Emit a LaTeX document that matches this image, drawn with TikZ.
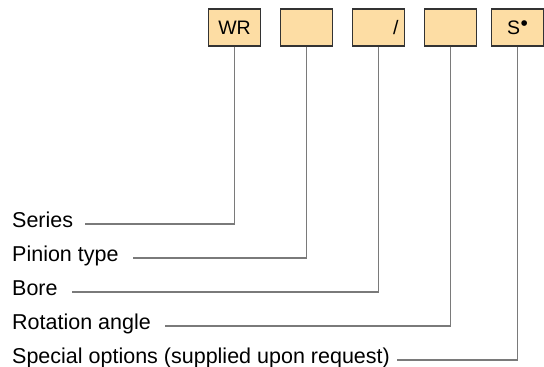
\documentclass[tikz,border=0pt]{standalone}
\usepackage{fontspec}
\setmainfont{Liberation Sans}
\usetikzlibrary{positioning}
\definecolor{boxfill}{HTML}{FDDDA4}
\definecolor{wire}{HTML}{7A7A7A}
\tikzset{codebox/.style={
    draw=black!80, fill=boxfill, line width=1.2pt,
    minimum width=52pt, minimum height=37pt, inner sep=0pt,
    font=\fontsize{19.5}{21}\selectfont
  },
  lbl/.style={
    anchor=west, inner sep=0pt, text height=15pt, text depth=9pt,
    font=\fontsize{21.5}{25}\selectfont
  },
  lead/.style={draw=wire, line width=1.3pt}
}

\begin{document}
\begin{tikzpicture}[x=1pt,y=-1pt]
    \useasboundingbox (0,0) rectangle (544,367);
    % the code boxes
    \node[codebox] (series-box) at (234.5,27.5) {WR};
    \node[codebox] (pinion-box) at (306.5,27.5) {};
    \node[codebox, text width=40pt, align=right] (bore-box) at (378.5,27.5) {/};
    \node[codebox] (angle-box) at (450.5,27.5) {};
    \node[codebox] (special-box) at (517.5,27.5)
      {S\hspace{0.5pt}\raisebox{4.5pt}{\fontsize{21}{21}\selectfont\textbullet}};
    % labels and their leads
    \foreach \n/\y/\x/\txt in {series/224/85/Series,
      pinion/258/133/Pinion type,
      bore/292/72/Bore,
      angle/326/165/Rotation angle,
      special/360/397/Special options (supplied upon request)} {
      \node[lbl] (\n) at (12,\y) {\txt};
      \coordinate (\n-end) at (\x,\y);
      \draw[lead] (\n-box.south) |- (\n-end);
    }
\end{tikzpicture}
\end{document}
